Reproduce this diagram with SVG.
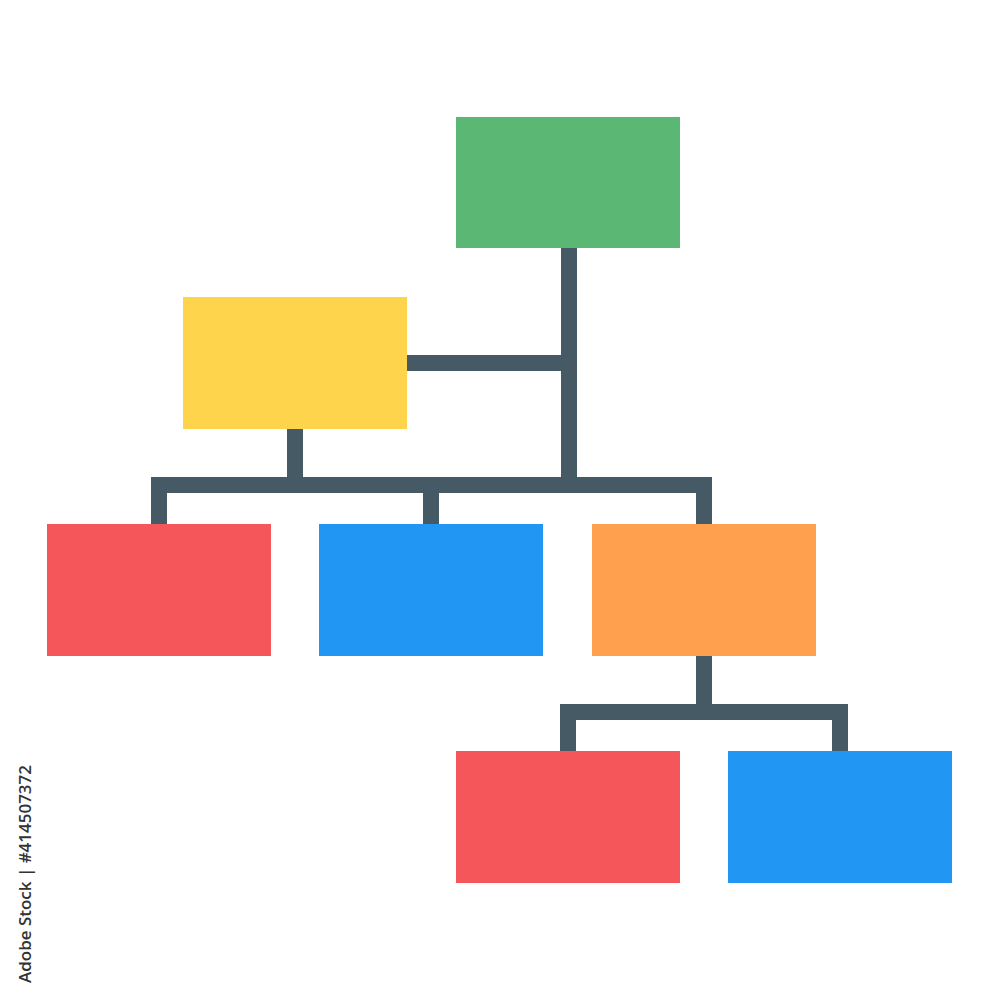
<svg xmlns="http://www.w3.org/2000/svg" width="1000" height="1000" viewBox="0 0 1000 1000">
<style>
.c{fill:none;stroke:#465A65;stroke-width:16;stroke-linecap:butt;stroke-linejoin:miter}
.g{fill:#5BB774}.y{fill:#FFD44D}.r{fill:#F4565A}.b{fill:#2196F3}.o{fill:#FFA04F}
.id{font-family:"Open Sans","Noto Sans",sans-serif;font-size:17px;font-weight:600;fill:#333333}
</style>
<rect width="1000" height="1000" fill="#ffffff"/>
<g id="connectors">
<path class="c" d="M569 248 V493"/>
<path class="c" d="M407 363 H569"/>
<path class="c" d="M295 429 V485"/>
<path class="c" d="M159 524 V485 H704 V524"/>
<path class="c" d="M431 485 V524"/>
<path class="c" d="M704 656 V712"/>
<path class="c" d="M568 751 V712 H840 V751"/>
</g>
<g id="root"><rect class="g" x="456" y="117" width="224" height="131"/></g>
<g id="yellow"><rect class="y" x="183" y="297" width="224" height="132"/></g>
<g id="red1"><rect class="r" x="47" y="524" width="224" height="132"/></g>
<g id="blue1"><rect class="b" x="319" y="524" width="224" height="132"/></g>
<g id="orange"><rect class="o" x="592" y="524" width="224" height="132"/></g>
<g id="red2"><rect class="r" x="456" y="751" width="224" height="132"/></g>
<g id="blue2"><rect class="b" x="728" y="751" width="224" height="132"/></g>
<text class="id" transform="translate(31,983) rotate(-90)" textLength="218" lengthAdjust="spacingAndGlyphs">Adobe Stock | #414507372</text>
</svg>
